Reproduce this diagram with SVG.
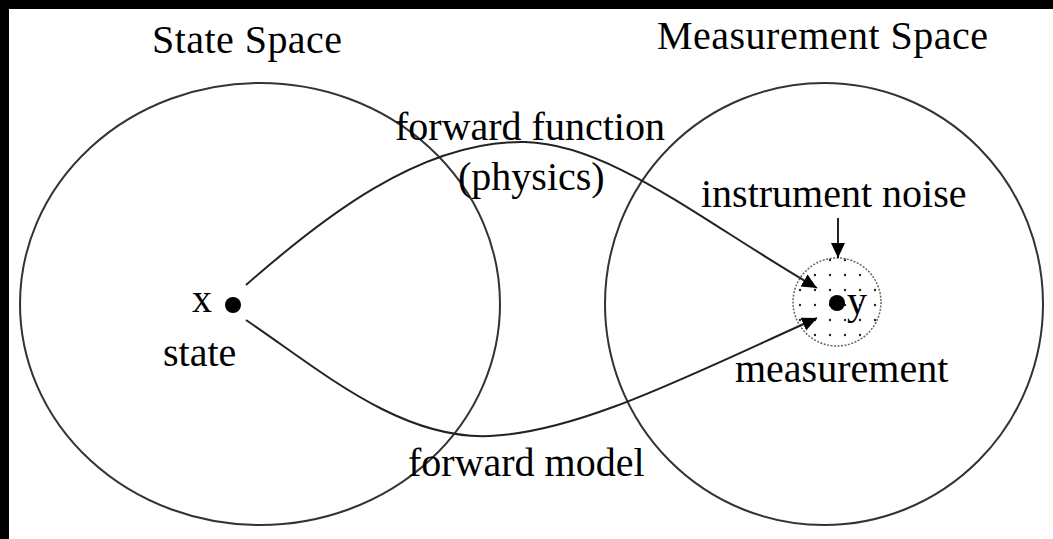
<svg xmlns="http://www.w3.org/2000/svg" width="1053" height="539" viewBox="0 0 1053 539">
<defs>
<style>
.t{font-family:"Liberation Serif","Times New Roman",serif;font-size:40px;fill:#000}
.c{fill:none;stroke:#333;stroke-width:2}
.e{fill:none;stroke:#222;stroke-width:2}
</style>
<marker id="ah" markerWidth="16" markerHeight="16" refX="15" refY="7" orient="auto" markerUnits="userSpaceOnUse">
<path d="M0,0 L15,7 L0,14 Z" fill="#000"/>
</marker>
<pattern id="dots" width="15" height="15" patternUnits="userSpaceOnUse" x="2" y="2">
<circle cx="3" cy="3" r="1.2" fill="#222"/>
</pattern>
</defs>
<rect x="0" y="0" width="1053" height="539" fill="#fff"/>
<rect x="0" y="0" width="1053" height="9" fill="#000"/>
<rect x="0" y="0" width="9" height="539" fill="#000"/>

<g id="state-space">
<ellipse class="c" cx="260" cy="304" rx="240" ry="221"/>
<text class="t" x="152" y="53" textLength="190" lengthAdjust="spacing">State Space</text>
</g>

<g id="measurement-space">
<ellipse class="c" cx="824" cy="304" rx="219" ry="221"/>
<text class="t" x="657" y="49" textLength="331" lengthAdjust="spacing">Measurement Space</text>
</g>

<g id="state-x">
<circle cx="233" cy="305" r="8" fill="#000"/>
<text class="t" x="192" y="312">x</text>
<text class="t" x="163" y="366">state</text>
</g>

<g id="measurement-y">
<circle cx="837" cy="302" r="44" fill="url(#dots)" stroke="#666" stroke-width="1.5" stroke-dasharray="2,1.5"/>
<circle cx="837" cy="303" r="8" fill="#000"/>
<text class="t" x="847" y="314">y</text>
<text class="t" x="735" y="382">measurement</text>
</g>

<g id="noise">
<text class="t" x="701" y="207">instrument noise</text>
</g>

<g id="connectors">
<path class="e" d="M246,285 C320,220 420,140 525,142 C610,144 700,220 817,288" marker-end="url(#ah)"/>
<path class="e" d="M246,320 C320,370 400,440 490,436 C580,432 690,375 817,318" marker-end="url(#ah)"/>
<line class="e" x1="838" y1="218" x2="838" y2="258" marker-end="url(#ah)"/>
</g>

<g id="labels">
<text class="t" x="395" y="140">forward function</text>
<text class="t" x="458" y="190">(physics)</text>
<text class="t" x="408" y="476">forward model</text>
</g>
</svg>
